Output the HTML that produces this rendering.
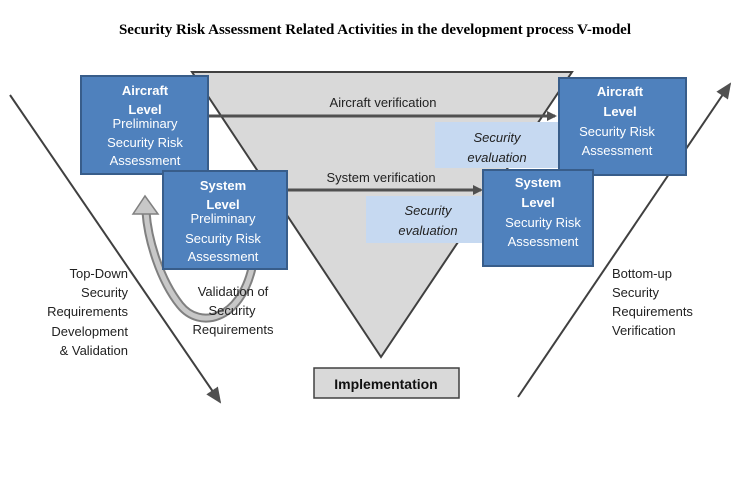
<!DOCTYPE html>
<html><head><style>
body{margin:0;background:#fff;}
svg{display:block;font-family:"Liberation Sans",Calibri,sans-serif;}
</style></head><body>
<svg width="750" height="477" viewBox="0 0 750 477" xmlns="http://www.w3.org/2000/svg">
<defs>
<marker id="ah" markerWidth="10" markerHeight="10" refX="8" refY="5" orient="auto" markerUnits="userSpaceOnUse">
<path d="M0,0 L10,5 L0,10 z" fill="#505050"/>
</marker>
<marker id="ah2" markerWidth="16" markerHeight="14" refX="14" refY="7" orient="auto" markerUnits="userSpaceOnUse">
<path d="M0,0 L16,7 L0,14 z" fill="#505050"/>
</marker>
</defs>
<text x="375" y="34" text-anchor="middle" font-family="Liberation Serif,serif" font-weight="bold" font-size="15">Security Risk Assessment Related Activities in the development process V-model</text>

<polygon points="192,72 572,72 381,357" fill="#d9d9d9" stroke="#404040" stroke-width="2"/>

<line x1="10" y1="95" x2="220" y2="402" stroke="#404040" stroke-width="2" marker-end="url(#ah2)"/>
<line x1="518" y1="397" x2="730" y2="84" stroke="#404040" stroke-width="2" marker-end="url(#ah2)"/>

<!-- curved arrow -->
<path d="M252,268 C240,320 200,330 180,305 C160,280 148,240 146,212" fill="none" stroke="#808080" stroke-width="9"/>
<path d="M252,268 C240,320 200,330 180,305 C160,280 148,240 146,212" fill="none" stroke="#c8c8c8" stroke-width="5"/>
<polygon points="133,214 145,196 158,214" fill="#c8c8c8" stroke="#808080" stroke-width="1.5"/>

<line x1="208" y1="116" x2="555" y2="116" stroke="#505050" stroke-width="3" marker-end="url(#ah)"/>
<text x="383" y="107" text-anchor="middle" font-size="13" fill="#222">Aircraft verification</text>
<line x1="287" y1="190" x2="481" y2="190" stroke="#505050" stroke-width="3" marker-end="url(#ah)"/>
<text x="381" y="182" text-anchor="middle" font-size="13" fill="#222">System verification</text>

<rect x="435" y="122" width="124" height="46" fill="#c6d9f1"/>
<text x="497" y="142" text-anchor="middle" font-size="13" font-style="italic" fill="#222">Security</text>
<text x="497" y="162" text-anchor="middle" font-size="13" font-style="italic" fill="#222">evaluation</text>
<rect x="366" y="196" width="118" height="47" fill="#c6d9f1"/>
<text x="428" y="215" text-anchor="middle" font-size="13" font-style="italic" fill="#222">Security</text>
<text x="428" y="235" text-anchor="middle" font-size="13" font-style="italic" fill="#222">evaluation</text>

<g font-size="13" fill="#fff" text-anchor="middle">
<rect x="81" y="76" width="127" height="98" fill="#4f81bd" stroke="#385d8a" stroke-width="2"/>
<text x="145" y="95" font-weight="bold">Aircraft</text>
<text x="145" y="114" font-weight="bold">Level</text>
<text x="145" y="128">Preliminary</text>
<text x="145" y="147">Security Risk</text>
<text x="145" y="165">Assessment</text>

<rect x="163" y="171" width="124" height="98" fill="#4f81bd" stroke="#385d8a" stroke-width="2"/>
<text x="223" y="190" font-weight="bold">System</text>
<text x="223" y="209" font-weight="bold">Level</text>
<text x="223" y="223">Preliminary</text>
<text x="223" y="243">Security Risk</text>
<text x="223" y="261">Assessment</text>

<rect x="559" y="78" width="127" height="97" fill="#4f81bd" stroke="#385d8a" stroke-width="2"/>
<text x="620" y="96" font-weight="bold">Aircraft</text>
<text x="620" y="116" font-weight="bold">Level</text>
<text x="617" y="136">Security Risk</text>
<text x="617" y="155">Assessment</text>

<rect x="483" y="170" width="110" height="96" fill="#4f81bd" stroke="#385d8a" stroke-width="2"/>
<text x="538" y="187" font-weight="bold">System</text>
<text x="538" y="207" font-weight="bold">Level</text>
<text x="543" y="227">Security Risk</text>
<text x="543" y="246">Assessment</text>
</g>

<g font-size="13" fill="#222">
<g text-anchor="end">
<text x="128" y="278">Top-Down</text>
<text x="128" y="297">Security</text>
<text x="128" y="316">Requirements</text>
<text x="128" y="336">Development</text>
<text x="128" y="355">&amp; Validation</text>
</g>
<g text-anchor="middle">
<text x="233" y="296">Validation of</text>
<text x="232" y="315">Security</text>
<text x="233" y="334">Requirements</text>
</g>
<text x="612" y="278">Bottom-up</text>
<text x="612" y="297">Security</text>
<text x="612" y="316">Requirements</text>
<text x="612" y="335">Verification</text>
</g>

<rect x="314" y="368" width="145" height="30" fill="#d9d9d9" stroke="#404040" stroke-width="1.5"/>
<text x="386" y="389" text-anchor="middle" font-size="14" font-weight="bold" fill="#111">Implementation</text>
</svg>
</body></html>
